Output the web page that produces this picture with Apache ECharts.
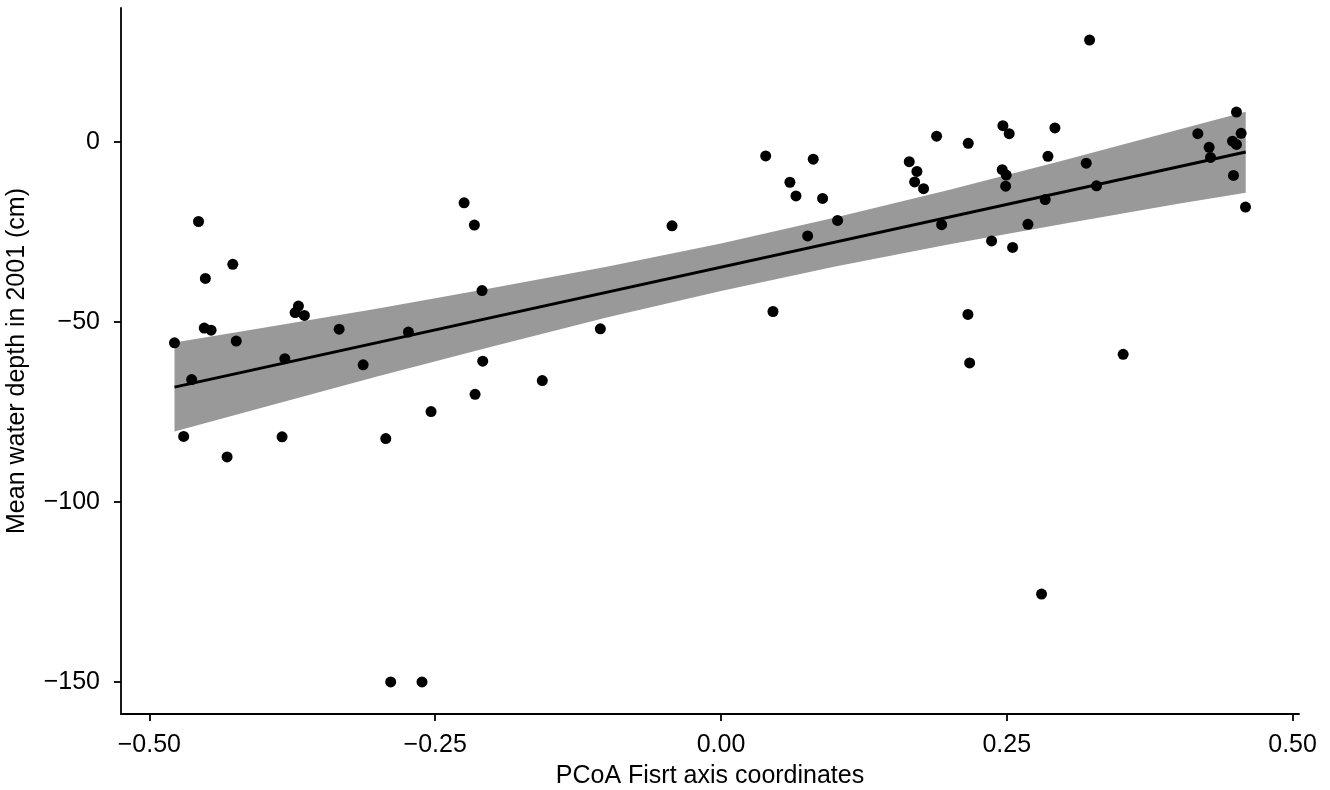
<!DOCTYPE html>
<html>
<head>
<meta charset="utf-8">
<script src="https://cdn.jsdelivr.net/npm/echarts@6/dist/echarts.min.js"></script>
<style>
html,body{margin:0;padding:0;background:#fff;}
#chart{width:1330px;height:790px;}
</style>
</head>
<body>
<div id="chart"></div>
<script>
// PCoA first axis coordinates (x) and mean water depth in 2001 (y)
const pcoaX = [-0.457,-0.427,-0.451,-0.2247,-0.2157,-0.209,-0.478,-0.463,-0.452,-0.446,
  -0.424,-0.470,-0.432,-0.3696,-0.3725,-0.3644,-0.3815,-0.3839,-0.334,-0.313,
  -0.2734,-0.2932,-0.2536,-0.2084,-0.2151,-0.2889,-0.2615,-0.1563,-0.1055,-0.0428,
  0.0391,0.0807,0.0603,0.0656,0.0889,0.102,0.0758,0.0455,0.1647,0.1714,
  0.1694,0.1772,0.1886,0.2163,0.193,0.2466,0.2521,0.2921,0.246,0.2495,
  0.249,0.286,0.2367,0.2551,0.2836,0.2685,0.3195,0.3285,0.3224,0.4171,
  0.4509,0.455,0.4474,0.4509,0.427,0.4282,0.4483,0.4588,0.216,0.2175,
  0.3518,0.2804];
const depth = [-22.1,-34.0,-37.9,-16.9,-23.1,-41.3,-55.8,-66.0,-51.7,-52.3,
  -55.3,-81.8,-87.5,-45.6,-47.4,-48.2,-60.2,-81.9,-52.0,-61.9,
  -52.8,-82.4,-74.9,-60.9,-70.1,-150,-150,-66.3,-51.9,-23.3,
  -3.9,-4.8,-11.2,-15.0,-15.7,-21.8,-26.1,-47.1,-5.5,-8.2,
  -11.1,-13.0,1.6,-0.4,-23.0,4.5,2.3,3.9,-7.7,-9.2,
  -12.3,-4.0,-27.5,-29.3,-16.0,-22.9,-5.9,-12.2,28.3,2.3,
  8.3,2.4,0.2,-0.7,-1.5,-4.3,-9.3,-18.1,-47.9,-61.4,
  -59.0,-125.6];

// Fitted line
const fitX = [-0.478, 0.459];
const fitY = [-68.1, -2.8];

// Confidence band
const bandX     = [-0.478,-0.40,-0.30,-0.20,-0.10,0.0,0.10,0.20,0.30,0.40,0.459];
const bandUpper = [-55.7,-51.6,-46.3,-40.6,-34.7,-28.2,-21.0,-13.3,-5.1,3.4,8.4];
const bandLower = [-80.4,-73.7,-65.1,-56.8,-48.8,-41.4,-34.6,-28.4,-22.7,-17.2,-14.1];

const xTicks = [-0.5,-0.25,0,0.25,0.5];
const yTicks = [-150,-100,-50,0];

const FONT = '"Liberation Sans", Arial, Helvetica, sans-serif';
const fmtNum = (v, d) => { const s = Math.abs(v).toFixed(d); return v < 0 ? '\u2212' + s : s; };

const scatterData = pcoaX.map((x,i)=>[x, depth[i]]);
const fitData = fitX.map((x,i)=>[x, fitY[i]]);
const bandData = bandX.map((x,i)=>[x, bandUpper[i], bandLower[i]]);

const chart = echarts.init(document.getElementById('chart'), null, {renderer:'canvas'});
chart.setOption({
  animation:false,
  backgroundColor:'#ffffff',
  grid:{left:121, right:31, top:8, bottom:76, containLabel:false, outerBoundsMode:'none'},
  xAxis:{
    type:'value', min:-0.5248, max:0.5056,
    name:'PCoA Fisrt axis coordinates', nameLocation:'middle', nameGap:50,
    nameTextStyle:{fontFamily:FONT, fontSize:25, color:'#000'},
    splitLine:{show:false},
    axisLine:{show:true, onZero:false, lineStyle:{color:'#000', width:1.8}},
    axisTick:{show:true, length:7, lineStyle:{color:'#000', width:1.8}, customValues:xTicks},
    axisLabel:{fontFamily:FONT, fontSize:25, color:'#000', margin:19, customValues:xTicks,
      formatter:v=>fmtNum(v,2)}
  },
  yAxis:{
    type:'value', min:-158.9, max:37.2,
    name:'Mean water depth in 2001 (cm)', nameLocation:'middle', nameGap:91, nameRotate:90,
    nameTextStyle:{fontFamily:FONT, fontSize:25, color:'#000'},
    splitLine:{show:false},
    axisLine:{show:true, onZero:false, lineStyle:{color:'#000', width:1.8}},
    axisTick:{show:true, length:7, lineStyle:{color:'#000', width:1.8}, customValues:yTicks},
    axisLabel:{fontFamily:FONT, fontSize:25, color:'#000', margin:21, customValues:yTicks,
      formatter:v=>fmtNum(v,0)}
  },
  series:[
    {
      type:'custom', z:1,
      data:bandData,
      encode:{x:0, y:[1,2]},
      renderItem:function(params, api){
        if (params.dataIndex !== 0) return;
        const up = bandData.map(d=>api.coord([d[0], d[1]]));
        const lo = bandData.map(d=>api.coord([d[0], d[2]])).reverse();
        return {type:'polygon', shape:{points:up.concat(lo)}, style:{fill:'#999999', stroke:null}};
      },
      silent:true
    },
    {
      type:'line', z:2, data:fitData, symbol:'none',
      lineStyle:{color:'#000', width:3}, silent:true
    },
    {
      type:'scatter', z:3, data:scatterData, symbol:'circle', symbolSize:11,
      itemStyle:{color:'#000', opacity:1}
    }
  ]
});
</script>
</body>
</html>
